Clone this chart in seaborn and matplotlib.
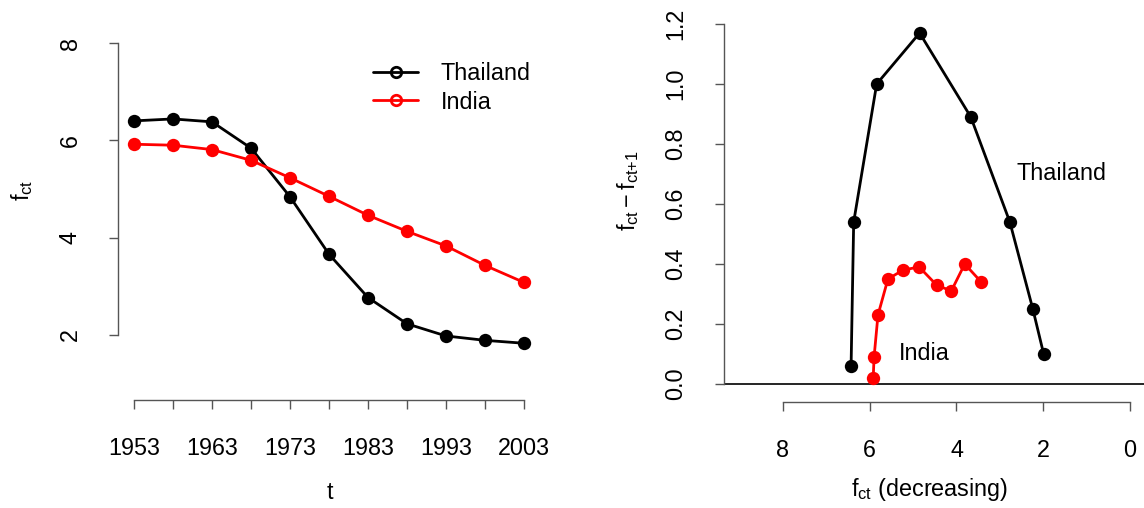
import matplotlib
matplotlib.use("Agg")
import matplotlib.pyplot as plt
from matplotlib.lines import Line2D
import seaborn as sns
import pandas as pd

# ---- data ----
years = [1953, 1958, 1963, 1968, 1973, 1978, 1983, 1988, 1993, 1998, 2003]
thailand_tfr = [6.40, 6.44, 6.38, 5.84, 4.84, 3.66, 2.77, 2.23, 1.98, 1.89, 1.83]
india_tfr = [5.92, 5.90, 5.81, 5.59, 5.23, 4.85, 4.46, 4.13, 3.83, 3.43, 3.08]

thailand_fct = [6.43, 6.37, 5.84, 4.85, 3.67, 2.77, 2.24, 1.99]
thailand_diff = [0.06, 0.54, 1.00, 1.17, 0.89, 0.54, 0.25, 0.10]
india_fct = [5.92, 5.90, 5.81, 5.58, 5.23, 4.86, 4.46, 4.12, 3.81, 3.43]
india_diff = [0.02, 0.09, 0.23, 0.35, 0.38, 0.39, 0.33, 0.31, 0.40, 0.34]

left_yticks = [2, 4, 6, 8]
right_yticks = [0.0, 0.2, 0.4, 0.6, 0.8, 1.0, 1.2]
right_xticks = [8, 6, 4, 2, 0]

sns.set_theme(style="ticks")
plt.rcParams["font.family"] = ["Liberation Sans", "DejaVu Sans"]
plt.rcParams["mathtext.fontset"] = "custom"
plt.rcParams["mathtext.rm"] = "Liberation Sans"
plt.rcParams["mathtext.it"] = "Liberation Sans"
plt.rcParams["text.color"] = "black"
plt.rcParams["axes.labelcolor"] = "black"
FS = 16.8
AX_COLOR = "#555555"

fig = plt.figure(figsize=(11.44, 5.08), dpi=100)
fig.patch.set_facecolor("white")

W, H = 1144.0, 508.0
ax1 = fig.add_axes([118.4 / W, (H - 400) / H, 421.2 / W, 369 / H])
ax2 = fig.add_axes([724 / W, (H - 402) / H, 420 / W, 392.4 / H])

line_kw = dict(marker="o", markersize=9.6, linewidth=2.0, markeredgewidth=0,
               sort=False, estimator=None)

# ---- left panel ----
df_t = pd.DataFrame({"t": years, "f": thailand_tfr})
df_i = pd.DataFrame({"t": years, "f": india_tfr})
sns.lineplot(data=df_t, x="t", y="f", ax=ax1, color="black",
             markeredgecolor="black", **line_kw)
sns.lineplot(data=df_i, x="t", y="f", ax=ax1, color="red",
             markeredgecolor="red", **line_kw)

ax1.set_xlim(1951, 2005)
ax1.set_ylim(0.664, 8.247)
ax1.set_xticks(years)
ax1.set_xticklabels([str(y) if i % 2 == 0 else "" for i, y in enumerate(years)])
ax1.set_yticks(left_yticks)
ax1.set_yticklabels([str(v) for v in left_yticks], rotation=90, va="center")
ax1.spines["left"].set_bounds(2, 8)
ax1.spines["bottom"].set_bounds(1953, 2003)

# ---- right panel ----
df_rt = pd.DataFrame({"f": thailand_fct, "d": thailand_diff})
df_ri = pd.DataFrame({"f": india_fct, "d": india_diff})
ax2.axhline(0, color="black", linewidth=1.2, zorder=1)
sns.lineplot(data=df_rt, x="f", y="d", ax=ax2, color="black",
             markeredgecolor="black", **line_kw)
sns.lineplot(data=df_ri, x="f", y="d", ax=ax2, color="red",
             markeredgecolor="red", **line_kw)

ax2.set_xlim(9.36, -0.323)
ax2.set_ylim(-0.06, 1.248)
ax2.set_xticks(right_xticks)
ax2.set_xticklabels([str(v) for v in right_xticks])
ax2.set_yticks(right_yticks)
ax2.set_yticklabels([f"{v:.1f}" for v in right_yticks], rotation=90, va="center")
ax2.spines["left"].set_bounds(0, 1.2)
ax2.spines["bottom"].set_bounds(0, 8)
ax2.text(1.59, 0.70, "Thailand", fontsize=FS, ha="center", va="center", color="black")
ax2.text(4.75, 0.10, "India", fontsize=FS, ha="center", va="center", color="black")

for ax in (ax1, ax2):
    ax.set_facecolor("white")
    sns.despine(ax=ax)
    for s in ("left", "bottom"):
        ax.spines[s].set_color(AX_COLOR)
        ax.spines[s].set_linewidth(1.0)
    ax.tick_params(axis="both", length=6.8, width=1.0, color=AX_COLOR,
                   labelsize=FS, labelcolor="black", direction="out")
    ax.tick_params(axis="x", pad=19.5)
    ax.tick_params(axis="y", pad=19.5)
    ax.grid(False)

# axis labels
ax1.set_xlabel("t", fontsize=FS, color="black")
ax1.xaxis.set_label_coords(0.5024, -0.252)
ax1.xaxis.label.set_va("center")
ax1.set_ylabel(r"$\mathregular{f_{ct}}$", fontsize=FS, color="black")
ax1.yaxis.set_label_coords(-0.2289, 0.569)
ax1.yaxis.label.set_va("center")

ax2.set_xlabel(r"$\mathregular{f_{ct}}$ (decreasing)", fontsize=FS, color="black")
ax2.xaxis.set_label_coords(0.4905, -0.224)
ax2.xaxis.label.set_va("center")
ax2.set_ylabel(r"$\mathregular{f_{ct} - f_{ct{+}1}}$", fontsize=FS, color="black")
ax2.yaxis.set_label_coords(-0.2286, 0.5377)
ax2.yaxis.label.set_va("center")

# legend
handles = [
    Line2D([0], [0], color="black", lw=2.0, marker="o", markersize=7.5,
           markerfacecolor="none", markeredgecolor="black", markeredgewidth=2.0),
    Line2D([0], [0], color="red", lw=2.0, marker="o", markersize=7.5,
           markerfacecolor="none", markeredgecolor="red", markeredgewidth=2.0),
]
leg = ax1.legend(handles, ["Thailand", "India"], loc="upper left",
                 bbox_to_anchor=(373 / W, (H - 62.5) / H), bbox_transform=fig.transFigure,
                 frameon=False, fontsize=FS, handlelength=1.93, handletextpad=0.97,
                 labelspacing=0.22, borderpad=0, borderaxespad=0)
for txt in leg.get_texts():
    txt.set_color("black")

fig.savefig("out.png", dpi=100, facecolor="white")
